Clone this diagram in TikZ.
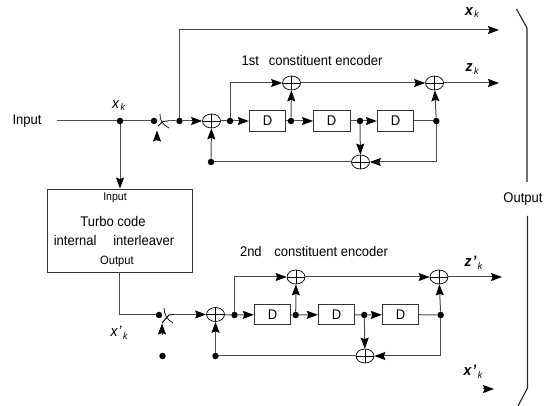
\documentclass[tikz,border=0pt]{standalone}
\usepackage{fontspec}
\setmainfont[FakeStretch=0.93]{Liberation Sans}
\usetikzlibrary{arrows.meta,shapes.geometric}
\tikzset{x=1pt,y=-1pt,
  wire/.style={line width=1pt,draw=black!70},
  flow/.style={-{Stealth[length=11pt,width=8pt,inset=1.5pt,black]}},
  blk/.style={draw=black!80,line width=0.8pt,fill=white,minimum width=36.5pt,minimum height=20.5pt,inner sep=0pt,font=\fontsize{14}{15}\selectfont},
  dotn/.style={circle,fill=black,inner sep=0pt,minimum size=6.5pt},
  xorn/.style={ellipse,draw=black,line width=0.7pt,fill=white,inner sep=0pt,minimum width=18pt,minimum height=14pt,path picture={\draw[line width=0.6pt] (path picture bounding box.west)--(path picture bounding box.east) (path picture bounding box.north)--(path picture bounding box.south);}},
  lab/.style={inner sep=0pt,font=\fontsize{14}{15}\selectfont},
  sym/.style={inner sep=0pt,font=\fontsize{15}{16}\selectfont\itshape},
  bsym/.style={inner sep=0pt,font=\fontsize{15}{16}\selectfont\bfseries\itshape},
  bracket/.style={line width=1.1pt,draw=black!85}}
\newcommand{\symk}[2]{#1\hspace{1.5pt}\raisebox{-2.5pt}{\fontsize{9.5}{11}\selectfont\mdseries #2}}
\begin{document}
\begin{tikzpicture}
\useasboundingbox (0,0) rectangle (550,406);
% ---- upper encoder
\coordinate (inS) at (57,121);
\node[dotn] (d0) at (120,121) {};
\node[dotn] (sw1a) at (154,121) {};
\coordinate (sw1b) at (168,121);
\node[dotn] (d1) at (179.5,121) {};
\node[xorn] (x1) at (211.5,121) {};
\node[dotn] (d2) at (230,121) {};
\node[blk] (D1) at (267.5,121) {D};
\node[dotn] (d3) at (291,121) {};
\node[blk] (D2) at (331.7,121) {D};
\node[dotn] (d4) at (360,121) {};
\node[blk] (D3) at (395.5,121) {D};
\node[dotn] (d5) at (436.3,121) {};
\node[xorn] (x2) at (291.5,83) {};
\node[xorn] (x3) at (434.5,83) {};
\node[xorn] (x4) at (360.5,162) {};
\node[dotn] (d6) at (211,162) {};
\coordinate (o1) at (499,30);
\coordinate (o2) at (499,83);
\coordinate (top) at (179.5,30);
\coordinate (a1) at (230,83);
% interleaver
\node[draw=black!80,line width=0.9pt,minimum width=145pt,minimum height=83pt,inner sep=0pt] (box) at (119.5,230.5) {};
\node[lab,font=\fontsize{11.3}{12}\selectfont] (t1) at (115,198) {Input};
\node[lab] (t2) at (113,221) {Turbo code};
\node[lab] (t3) at (114,240) {internal\hspace{1.2em}interleaver};
\node[lab,font=\fontsize{12}{13}\selectfont] (t4) at (117,261.5) {Output};
\draw[wire] (inS) -- (d0) -- (sw1a);
\draw[wire,flow] (d0) -- (box.north -| d0);
\draw[wire] (sw1b) -- (d1);
\draw[wire,flow] (d1) -- (x1);
\draw[wire] (x1) -- (d2);
\draw[wire,flow] (d2) -- (D1);
\draw[wire] (D1) -- (d3);
\draw[wire,flow] (d3) -- (D2);
\draw[wire] (D2) -- (d4);
\draw[wire,flow] (d4) -- (D3);
\draw[wire] (D3) -- (d5);
\draw[wire,flow] (d1) -- (top) -- (o1);
\draw[wire,flow] (d2) -- (a1) -- (x2);
\draw[wire,flow] (x2) -- (x3);
\draw[wire,flow] (x3) -- (o2);
\draw[wire,flow] (d3) -- (x2);
\draw[wire,flow] (d5) -- (x3);
\draw[wire,flow] (d4) -- (x4);
\draw[wire,flow] (d5) |- (x4);
\draw[wire] (x4) -- (d6);
\draw[wire,flow] (d6) -- (x1);
% switch 1
\draw[line width=0.9pt,black] (sw1b) -- (163,121.5) -- (158,126);
\draw[line width=0.7pt,black] (160,114) .. controls (159.5,120) and (163,125) .. (169,128);
\coordinate (p1) at (157,141.5);
\coordinate (p1t) at (157,130.5);
\draw[wire,flow] (p1) -- (p1t);
% ---- lower encoder
\coordinate (b0) at (119,315);
\node[dotn] (sw2a) at (159,315) {};
\coordinate (sw2b) at (174,314.5);
\node[xorn] (y1) at (215.5,314.5) {};
\node[dotn] (e2) at (234.5,315) {};
\node[blk] (E1) at (272.5,314.5) {D};
\node[dotn] (e3) at (295.7,315) {};
\node[blk] (E2) at (336.5,314.5) {D};
\node[dotn] (e4) at (364.3,315) {};
\node[blk] (E3) at (400.5,314.5) {D};
\node[dotn] (e5) at (440.7,315) {};
\node[xorn] (y2) at (296,277) {};
\node[xorn] (y3) at (439,277) {};
\node[xorn] (y4) at (365,356) {};
\node[dotn] (e6) at (215.5,356) {};
\node[dotn] (e7) at (162.5,356) {};
\coordinate (o3) at (502,277);
\coordinate (a2) at (234.5,277);
\draw[wire] (box.south -| b0) -- (b0) -- (sw2a);
\draw[wire,flow] (sw2b) -- (y1);
\draw[wire] (y1) -- (e2);
\draw[wire,flow] (e2) -- (E1);
\draw[wire] (E1) -- (e3);
\draw[wire,flow] (e3) -- (E2);
\draw[wire] (E2) -- (e4);
\draw[wire,flow] (e4) -- (E3);
\draw[wire] (E3) -- (e5);
\draw[wire,flow] (e2) -- (a2) -- (y2);
\draw[wire,flow] (y2) -- (y3);
\draw[wire,flow] (y3) -- (o3);
\draw[wire,flow] (e3) -- (y2);
\draw[wire,flow] (e5) -- (y3);
\draw[wire,flow] (e4) -- (y4);
\draw[wire,flow] (e5) |- (y4);
\draw[wire] (y4) -- (e6);
\draw[wire,flow] (e6) -- (y1);
% switch 2
\draw[line width=0.9pt,black] (sw2b) -- (169,315) -- (162,323);
\draw[line width=0.7pt,black] (164,308) .. controls (164,314) and (167,320) .. (173,323);
\coordinate (p2) at (162,335);
\coordinate (p2t) at (162,323.5);
\draw[wire,flow] (p2) -- (p2t);
% lone arrowhead
\coordinate (h1) at (483,389);
\coordinate (h2) at (494,389);
\draw[wire,flow] (h1) -- (h2);
% bracket
\coordinate (b1) at (516.5,9);
\coordinate (b2) at (527,28);
\coordinate (b3) at (527,182);
\coordinate (b4) at (527.5,216);
\coordinate (b5) at (527.5,388);
\coordinate (b6) at (518,406);
\draw[bracket] (b1) -- (b2) -- (b3);
\draw[bracket] (b4) -- (b5) -- (b6);
% labels
\node[lab] (lin) at (27,121.5) {Input};
\node[sym] (l1) at (118.5,105.5) {\symk{x}{k}};
\node[bsym] (l2) at (472,12.5) {\symk{x}{k}};
\node[lab] (l3) at (312,60) {1st\hspace{0.7em}constituent encoder};
\node[bsym] (l4) at (472,69) {\symk{z}{k}};
\node[lab] (l5) at (523,199.5) {Output};
\node[sym] (l6) at (119,333) {\symk{x\hspace{1pt}'}{k}};
\node[lab] (l7) at (314,251) {2nd\hspace{0.9em}constituent encoder};
\node[bsym] (l8) at (473.5,263) {\symk{z\hspace{1pt}'}{k}};
\node[bsym] (l9) at (473,372) {\symk{x\hspace{1pt}'}{k}};
\end{tikzpicture}
\end{document}
